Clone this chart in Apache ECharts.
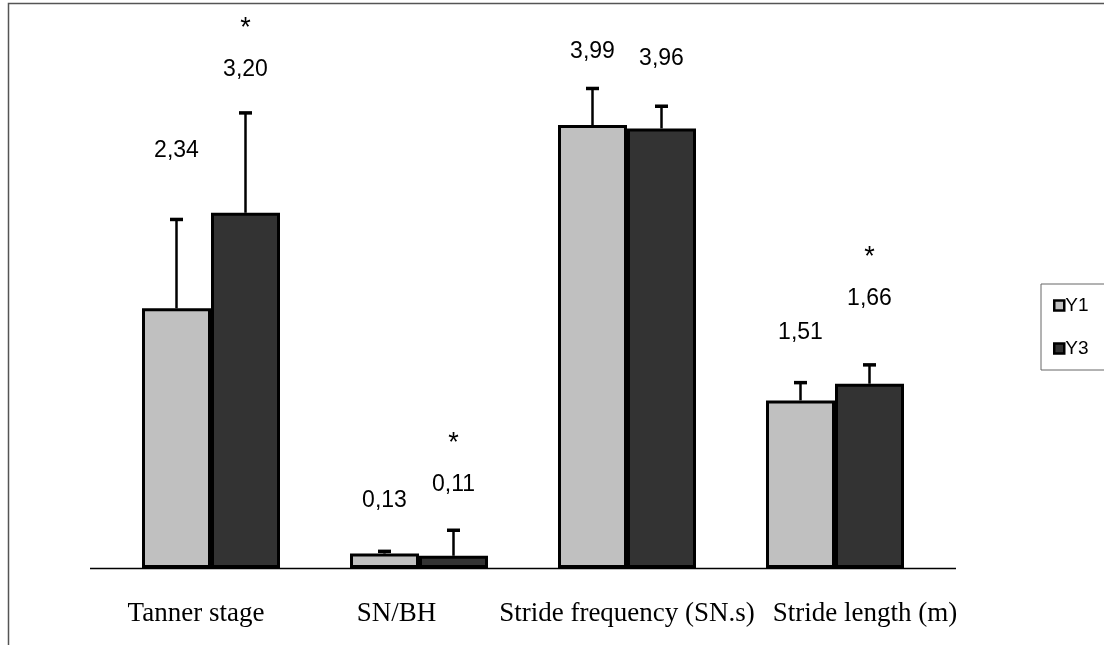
<!DOCTYPE html>
<html>
<head>
<meta charset="utf-8">
<script src="https://cdn.jsdelivr.net/npm/echarts@6/dist/echarts.min.js"></script>
<style>
html,body{margin:0;padding:0;background:#fff;}
#chart{width:1104px;height:645px;}
</style>
</head>
<body>
<div id="chart"></div>
<script>
// ---- data ----
const categories = ['Tanner stage', 'SN/BH', 'Stride frequency (SN.s)', 'Stride length (m)'];
const seriesNames = ['Y1', 'Y3'];
const y1Values = [2.34, 0.13, 3.99, 1.51];
const y3Values = [3.20, 0.11, 3.96, 1.66];
const y1SD = [0.80, 0.02, 0.33, 0.16];
const y3SD = [0.90, 0.23, 0.20, 0.17];
// where the value annotations sit (axis units)
const y1LabelAt = [3.76, 0.61, 4.65, 2.12];
const y3LabelAt = [4.49, 0.75, 4.59, 2.43];
const y3Significant = [true, true, false, true];

// ---- styles ----
const BAR_W = 69;
const fmt = v => v.toFixed(2).replace('.', ',');
const sansFont = '"Liberation Sans", Arial, sans-serif';
const serifFont = '"Liberation Serif", "Times New Roman", serif';

const chart = echarts.init(document.getElementById('chart'));

function errorBarSeries(name, values, sds, offset) {
  return {
    type: 'custom',
    name: name + ' SD',
    z: 5,
    silent: true,
    data: values.map((v, i) => [i, v, v + sds[i]]),
    renderItem: function (params, api) {
      const b = api.coord([api.value(0), api.value(1)]);
      const t = api.coord([api.value(0), api.value(2)]);
      const x = b[0] + offset;
      return {
        type: 'group',
        children: [
          { type: 'line', shape: { x1: x, y1: b[1], x2: x, y2: t[1] }, style: { stroke: '#000', lineWidth: 2.5 } },
          { type: 'line', shape: { x1: x - 6.5, y1: t[1], x2: x + 6.5, y2: t[1] }, style: { stroke: '#000', lineWidth: 3.5 } }
        ]
      };
    }
  };
}

function labelSeries(name, values, labelAt, offset, stars) {
  return {
    type: 'custom',
    name: name + ' labels',
    z: 6,
    silent: true,
    data: values.map((v, i) => [i, labelAt[i], fmt(v), stars && stars[i] ? 1 : 0]),
    renderItem: function (params, api) {
      const p = api.coord([api.value(0), api.value(1)]);
      const x = p[0] + offset;
      const children = [{
        type: 'text',
        style: { text: api.value(2), x: x, y: p[1], align: 'center', verticalAlign: 'middle',
                 fontSize: 23, fontFamily: sansFont, fill: '#000' }
      }];
      if (api.value(3)) {
        children.push({
          type: 'text',
          style: { text: '*', x: x, y: p[1] - 41, align: 'center', verticalAlign: 'middle',
                   fontSize: 27, fontFamily: sansFont, fill: '#000' }
        });
      }
      return { type: 'group', children: children };
    }
  };
}

const labelPad = [[0, 30, 0, 0], [0, 45, 0, 0], [0, 0, 0, 0], [0, 0, 0, 60]];
const catText = { fontSize: 27, fontFamily: serifFont, color: '#000' };

const option = {
  backgroundColor: '#fff',
  animation: false,
  grid: { left: 107, right: 165, top: 13, bottom: 77, containLabel: false },
  xAxis: {
    type: 'category',
    data: categories,
    axisLine: { show: false },
    axisTick: { show: false },
    axisLabel: {
      interval: 0,
      margin: 32,
      formatter: function (v, i) { return '{c' + i + '|' + v + '}'; },
      rich: {
        c0: Object.assign({ padding: labelPad[0] }, catText),
        c1: Object.assign({ padding: labelPad[1] }, catText),
        c2: Object.assign({ padding: labelPad[2] }, catText),
        c3: Object.assign({ padding: labelPad[3] }, catText)
      }
    }
  },
  yAxis: {
    type: 'value', min: 0, max: 5,
    show: false,
    splitLine: { show: false }
  },
  legend: {
    data: seriesNames,
    orient: 'vertical',
    left: 1041,
    top: 284,
    padding: [12, 40, 12, 12],
    itemGap: 24,
    itemWidth: 10,
    itemHeight: 10,
    icon: 'rect',
    borderColor: '#666',
    borderWidth: 1,
    itemStyle: { borderColor: '#000', borderWidth: 2.5 },
    textStyle: { fontSize: 19, fontFamily: sansFont, color: '#000', padding: [0, 0, 0, -4] }
  },
  series: [
    {
      name: 'Y1', type: 'bar', data: y1Values, barWidth: BAR_W, barGap: '0%',
      itemStyle: { color: '#C0C0C0', borderColor: '#000', borderWidth: 3 }
    },
    {
      name: 'Y3', type: 'bar', data: y3Values, barWidth: BAR_W, barGap: '0%',
      itemStyle: { color: '#333333', borderColor: '#000', borderWidth: 3 }
    },
    errorBarSeries('Y1', y1Values, y1SD, -BAR_W / 2),
    errorBarSeries('Y3', y3Values, y3SD, BAR_W / 2),
    labelSeries('Y1', y1Values, y1LabelAt, -BAR_W / 2, null),
    labelSeries('Y3', y3Values, y3LabelAt, BAR_W / 2, y3Significant)
  ]
};

chart.setOption(option);

// frame and base line
const y0 = chart.convertToPixel({ yAxisIndex: 0 }, 0);
const xFirst = chart.convertToPixel({ xAxisIndex: 0 }, 0);
const xLast = chart.convertToPixel({ xAxisIndex: 0 }, categories.length - 1);
const band = (xLast - xFirst) / (categories.length - 1);
chart.setOption({
  graphic: [
    { type: 'polyline', shape: { points: [[8.5, 645], [8.5, 3.5], [1104, 3.5]] },
      style: { stroke: '#555', lineWidth: 1.5, fill: null }, z: 10 },
    { type: 'line', shape: { x1: xFirst - band / 2 - 17, y1: y0 + 0.5, x2: xLast + band / 2 + 17, y2: y0 + 0.5 },
      style: { stroke: '#000', lineWidth: 1.5 }, z: 1 }
  ]
});
</script>
</body>
</html>
